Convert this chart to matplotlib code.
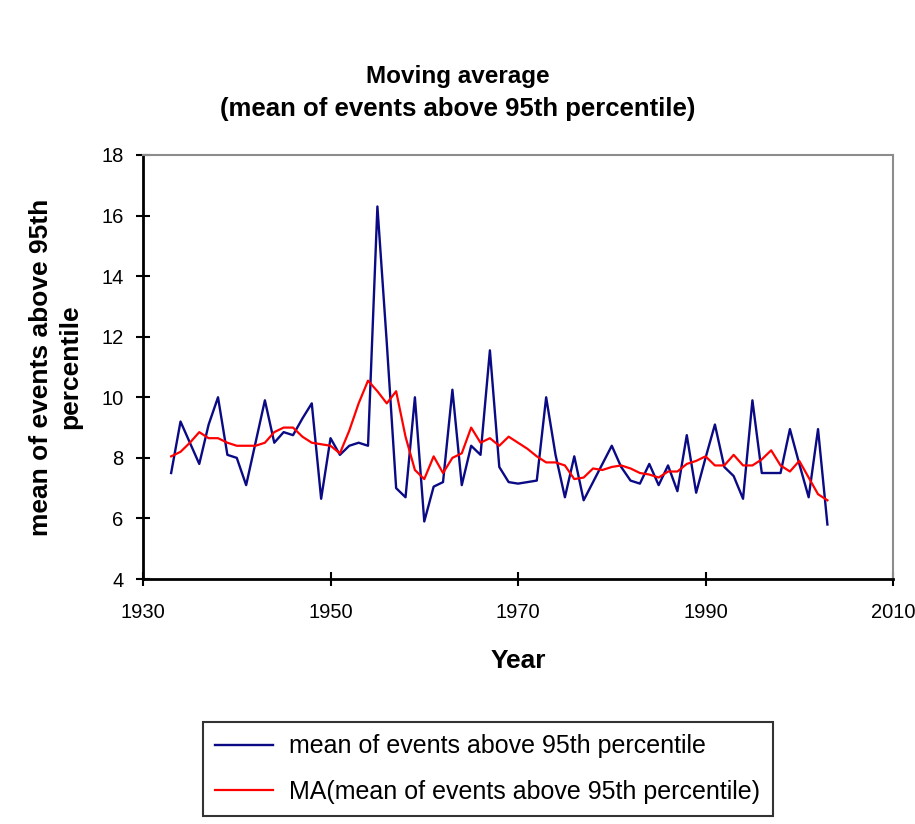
import matplotlib.pyplot as plt

plt.rcParams['font.family'] = ['Liberation Sans', 'DejaVu Sans']

years = list(range(1933, 2004))

mean_events = [
    7.5, 9.2, 8.5, 7.8, 9.1, 10.0, 8.1, 8.0, 7.1, 8.5,
    9.9, 8.5, 8.85, 8.75, 9.3, 9.8, 6.65, 8.65, 8.1, 8.4,
    8.5, 8.4, 16.3, 11.8, 7.0, 6.7, 10.0, 5.9, 7.05, 7.2,
    10.25, 7.1, 8.4, 8.1, 11.55, 7.7, 7.2, 7.15, 7.2, 7.25,
    10.0, 8.1, 6.7, 8.05, 6.6, 7.2, 7.8, 8.4, 7.7, 7.25,
    7.15, 7.8, 7.1, 7.75, 6.9, 8.75, 6.85, 8.0, 9.1, 7.7,
    7.4, 6.65, 9.9, 7.5, 7.5, 7.5, 8.95, 7.8, 6.7, 8.95,
    5.8,
]

moving_avg = [
    8.05, 8.2, 8.5, 8.85, 8.65, 8.65, 8.5, 8.4, 8.4, 8.4,
    8.5, 8.85, 9.0, 9.0, 8.7, 8.5, 8.45, 8.4, 8.15, 8.9,
    9.8, 10.55, 10.2, 9.8, 10.2, 8.7, 7.6, 7.3, 8.05, 7.5,
    8.0, 8.15, 9.0, 8.5, 8.65, 8.4, 8.7, 8.5, 8.3, 8.05,
    7.85, 7.85, 7.75, 7.3, 7.35, 7.65, 7.6, 7.7, 7.75, 7.65,
    7.5, 7.45, 7.35, 7.55, 7.55, 7.8, 7.9, 8.05, 7.75, 7.75,
    8.1, 7.75, 7.75, 7.95, 8.25, 7.75, 7.55, 7.9, 7.35, 6.8,
    6.6,
]

x_ticks = [1930, 1950, 1970, 1990, 2010]
y_ticks = [4, 6, 8, 10, 12, 14, 16, 18]

fig = plt.figure(figsize=(9.15, 8.24), dpi=100)
ax = fig.add_axes([0.1563, 0.2973, 0.8197, 0.5146])

ax.plot(years, mean_events, color='#0a0a85', linewidth=1.7,
        label='mean of events above 95th percentile')
ax.plot(years, moving_avg, color='#ff0000', linewidth=1.6,
        label='MA(mean of events above 95th percentile)')

ax.set_xlim(1930, 2010)
ax.set_ylim(4, 18)
ax.set_xticks(x_ticks)
ax.set_yticks(y_ticks)
ax.tick_params(direction='inout', length=10, width=1.5, labelsize=14.5)
ax.tick_params(axis='x', pad=12)
ax.tick_params(axis='y', pad=9)

for side in ('left', 'bottom'):
    ax.spines[side].set_linewidth(2)
    ax.spines[side].set_color('black')
for side in ('top', 'right'):
    ax.spines[side].set_linewidth(1.5)
    ax.spines[side].set_color('#8c8c8c')

ax.set_xlabel('Year', fontsize=19, fontweight='bold', labelpad=20)
ax.set_ylabel('mean of events above 95th\npercentile', fontsize=19,
              fontweight='bold', labelpad=14, linespacing=1.25)

fig.text(0.5, 0.907, 'Moving average', ha='center', va='center',
         fontsize=17.5, fontweight='bold')
fig.text(0.5, 0.868, '(mean of events above 95th percentile)', ha='center',
         va='center', fontsize=18.5, fontweight='bold')

leg = ax.legend(loc='upper left', bbox_to_anchor=(0.2218, 0.1238),
                bbox_transform=fig.transFigure, fontsize=18, frameon=True,
                fancybox=False, edgecolor='black', handlelength=2.3,
                handletextpad=0.65, labelspacing=0.85, borderpad=0.5,
                borderaxespad=0)
leg.get_frame().set_linewidth(1.5)

plt.savefig('out.png', dpi=100)
plt.close()
